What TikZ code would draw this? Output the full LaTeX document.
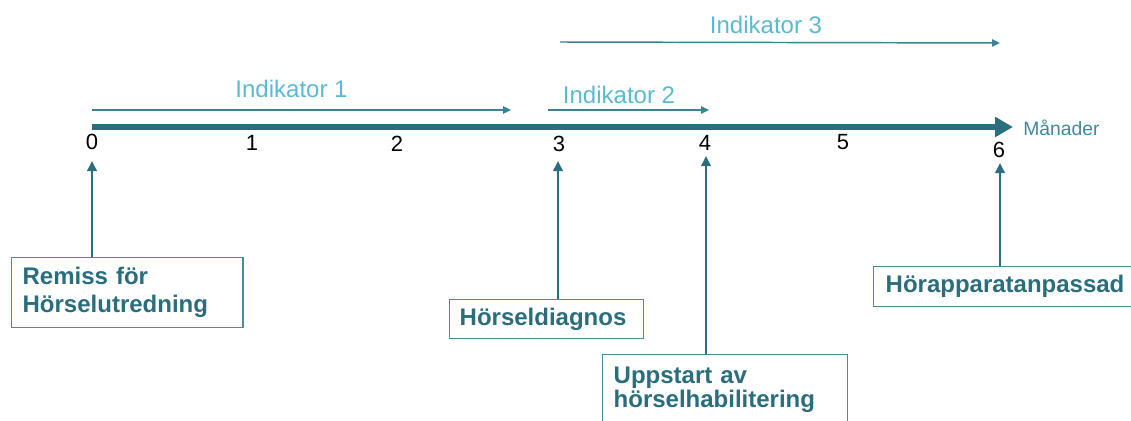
\documentclass[tikz,border=0pt]{standalone}
\usepackage{fontspec}
\setmainfont{Liberation Sans}
\usetikzlibrary{arrows.meta}
\definecolor{axisteal}{HTML}{2B6E7D}
\definecolor{lineteal}{HTML}{3C8292}
\definecolor{boxline}{HTML}{4A8C9A}
\definecolor{boxtext}{HTML}{2A6D7C}
\definecolor{indtext}{HTML}{5DB8D2}
\definecolor{mantext}{HTML}{3F8A99}
\tikzset{
  axisline/.style={draw=axisteal, line width=4.5pt, -{Triangle[length=13.5pt,width=14.5pt]}},
  upline/.style={draw=axisteal, line width=2.2pt, -{Triangle[length=7.5pt,width=7pt]}},
  indline/.style={draw=lineteal, line width=1.1pt, -{Triangle[length=6pt,width=5.5pt]}},
  tick/.style={font=\fontsize{16.5}{19}\selectfont, text=black, inner sep=0pt, anchor=center},
  indlabel/.style={font=\fontsize{18}{21}\selectfont, text=indtext, inner sep=0pt, anchor=base},
  eventbox/.style={draw=boxline, line width=1pt, text=boxtext, anchor=north west, align=left,
    font=\fontsize{18}{21}\bfseries\selectfont, inner ysep=0pt},
}
\begin{document}
\begin{tikzpicture}[x=0.75pt,y=-0.75pt]
\useasboundingbox (0,0) rectangle (1131,421);

% axis
\coordinate (ax0) at (92,127);
\coordinate (ax1) at (1013,127);
\draw[axisline] (ax0) -- (ax1);
\node[font=\fontsize{14.5}{17}\selectfont, text=mantext, inner sep=0pt, anchor=base west] (man) at (1023,135) {Månader};

% tick labels
\node[tick] (t0) at (92,141.5) {0};
\node[tick] (t1) at (252,142.5) {1};
\node[tick] (t2) at (397,143.5) {2};
\node[tick] (t3) at (559,144) {3};
\node[tick] (t4) at (705,142.5) {4};
\node[tick] (t5) at (843,142.5) {5};
\node[tick] (t6) at (999,149.5) {6};

% indicators
\coordinate (i1s) at (92,110);
\coordinate (i1e) at (511,110);
\draw[indline] (i1s) -- (i1e);
\node[indlabel] (ind1) at (291.5,97) {Indikator 1};

\coordinate (i2s) at (548,110);
\coordinate (i2e) at (709,110);
\draw[indline] (i2s) -- (i2e);
\node[indlabel] (ind2) at (619,103) {Indikator 2};

\coordinate (i3s) at (560,42);
\coordinate (i3e) at (1000,43);
\draw[indline] (i3s) -- (i3e);
\node[indlabel] (ind3) at (766,33) {Indikator 3};

% event boxes
\node[eventbox, inner xsep=8.25pt, text width=157pt, minimum height=52.5pt,
  font=\fontsize{18}{21}\bfseries\selectfont] (remiss) at (11,257)
  {Remiss för\\Hörselutredning};
\node[eventbox, inner xsep=7.5pt, text width=130.5pt, minimum height=29.25pt] (diag) at (449,299)
  {Hörseldiagnos};
\node[eventbox, inner xsep=8.25pt, text width=167pt, minimum height=52.5pt,
  font=\fontsize{18}{18.5}\bfseries\selectfont] (upp) at (602,354)
  {Uppstart av\\hörselhabilitering};
\node[eventbox, inner xsep=9pt, text width=190pt, minimum height=30pt] (hora) at (873,266)
  {Hörapparatanpassad};

% arrows from events to axis
\coordinate (p0) at (92,161);
\coordinate (p3) at (558,161);
\coordinate (p4) at (706,156);
\coordinate (p6) at (1000,163);
\draw[upline] (remiss.north -| p0) -- (p0);
\draw[upline] (diag.north -| p3) -- (p3);
\draw[upline] (upp.north -| p4) -- (p4);
\draw[upline] (hora.north -| p6) -- (p6);
\end{tikzpicture}
\end{document}
